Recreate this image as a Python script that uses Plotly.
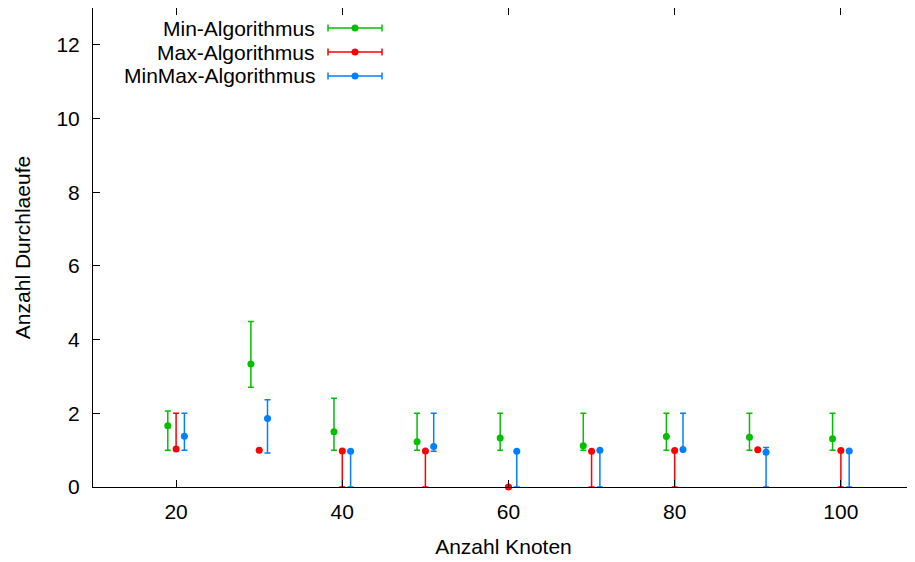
import plotly.graph_objects as go

# Data (x = number of nodes, y = value, lo/hi = error bar ends)
min_x = [19, 29, 39, 49, 59, 69, 79, 89, 99]
min_y = [1.66, 3.34, 1.50, 1.23, 1.33, 1.12, 1.37, 1.35, 1.31]
min_lo = [1.0, 2.71, 1.0, 1.0, 1.0, 1.0, 1.0, 1.0, 1.0]
min_hi = [2.06, 4.49, 2.41, 2.0, 2.0, 2.0, 2.0, 2.0, 2.0]

max_x = [20, 30, 40, 50, 60, 70, 80, 90, 100]
max_y = [1.03, 1.0, 0.98, 0.98, 0.0, 0.97, 0.99, 1.01, 0.99]
max_lo = [1.0, 1.0, 0.0, 0.0, 0.0, 0.0, 0.0, 1.0, 0.0]
max_hi = [2.0, 1.0, 0.98, 0.98, 0.0, 0.97, 0.99, 1.02, 0.99]

mm_x = [21, 31, 41, 51, 61, 71, 81, 91, 101]
mm_y = [1.38, 1.86, 0.97, 1.10, 0.97, 1.0, 1.02, 0.94, 0.98]
mm_lo = [1.0, 0.92, 0.0, 0.97, 0.0, 0.0, 1.0, 0.0, 0.0]
mm_hi = [2.0, 2.37, 0.97, 2.0, 0.97, 1.0, 2.0, 1.07, 0.98]

names = ["Min-Algorithmus", "Max-Algorithmus", "MinMax-Algorithmus"]
colors = ["#00c000", "#ff0000", "#0080ff"]

x_ticks = [20, 40, 60, 80, 100]
y_ticks = [0, 2, 4, 6, 8, 10, 12]

FONT = "Liberation Sans, Arial, sans-serif"
FS = 21

fig = go.Figure()
series = [(min_x, min_y, min_lo, min_hi), (max_x, max_y, max_lo, max_hi), (mm_x, mm_y, mm_lo, mm_hi)]
for (xs, ys, lo, hi), name, col in zip(series, names, colors):
    fig.add_trace(go.Scatter(
        x=xs, y=ys, mode="markers", name=name,
        marker=dict(color=col, size=7),
        error_y=dict(type="data", symmetric=False,
                     array=[h - y for h, y in zip(hi, ys)],
                     arrayminus=[y - l for y, l in zip(ys, lo)],
                     color=col, thickness=1.5, width=3),
        cliponaxis=False, showlegend=False,
    ))

# Page offset (browser body margin)
OFF = 8
PAGE_W, PAGE_H = 915, 562
FIG_W, FIG_H = PAGE_W - OFF, PAGE_H - OFF

# Plot area in page pixel coordinates
L, R, T, B = 93, 914, 8, 487
W, H = R - L, B - T
def px(xp):
    return (xp - L) / W
def py(yp):
    return (B - yp) / H

# Manual gnuplot-style legend (paper coordinates)
rows = [28, 52, 76]
for name, col, yr in zip(names, colors, rows):
    fig.add_annotation(x=px(317), y=py(yr), xref="paper", yref="paper",
                       text=name, showarrow=False, xanchor="right", yanchor="middle",
                       font=dict(family=FONT, size=FS, color="black"))
    fig.add_shape(type="line", xref="paper", yref="paper",
                  x0=px(328), x1=px(382), y0=py(yr), y1=py(yr),
                  line=dict(color=col, width=1.5))
    for xe in (328, 382):
        fig.add_shape(type="line", xref="paper", yref="paper",
                      x0=px(xe), x1=px(xe), y0=py(yr - 3.5), y1=py(yr + 3.5),
                      line=dict(color=col, width=1.5))
    fig.add_shape(type="circle", xref="paper", yref="paper",
                  x0=px(351.5), x1=px(358.5), y0=py(yr - 3.5), y1=py(yr + 3.5),
                  fillcolor=col, line=dict(color=col, width=0))

axis_common = dict(showline=True, linecolor="black", linewidth=1, mirror="ticks",
                   ticks="inside", ticklen=7, tickcolor="black", showgrid=False,
                   zeroline=False, tickfont=dict(family=FONT, size=FS, color="black"))

fig.update_layout(
    width=FIG_W, height=FIG_H,
    margin=dict(l=L - OFF, r=FIG_W - (R - OFF), t=T - OFF, b=FIG_H - (B - OFF)),
    plot_bgcolor="white", paper_bgcolor="white",
    xaxis=dict(range=[10, 108.8], tickvals=x_ticks, ticktext=[str(v) for v in x_ticks],
               ticklabelstandoff=6,
               title=dict(text="Anzahl Knoten", font=dict(family=FONT, size=FS, color="black"), standoff=17),
               **axis_common),
    yaxis=dict(range=[0, 13], tickvals=y_ticks, ticktext=[str(v) for v in y_ticks],
               ticklabelstandoff=8,
               title=dict(text="Anzahl Durchlaeufe", font=dict(family=FONT, size=FS, color="black"), standoff=20),
               **axis_common),
    showlegend=False,
)

fig.write_html("out.html")
